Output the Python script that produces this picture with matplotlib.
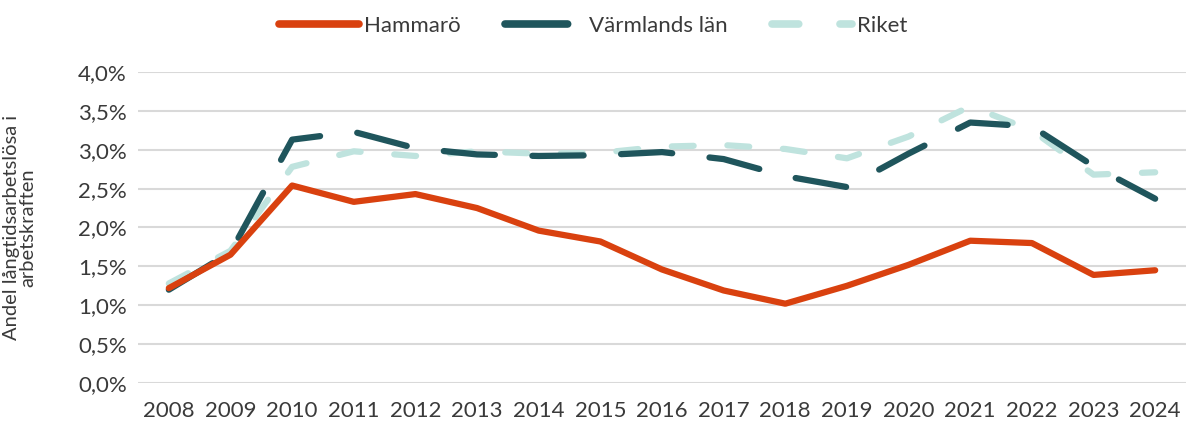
import matplotlib.pyplot as plt
from matplotlib.ticker import FuncFormatter

years = list(range(2008, 2025))
hammaro = [1.22, 1.65, 2.54, 2.33, 2.43, 2.25, 1.96, 1.82, 1.46, 1.19, 1.02, 1.25, 1.52, 1.83, 1.80, 1.39, 1.45]
varmland = [1.20, 1.68, 3.13, 3.23, 3.02, 2.94, 2.92, 2.93, 2.97, 2.88, 2.66, 2.52, 2.95, 3.35, 3.30, 2.79, 2.37]
riket = [1.28, 1.70, 2.78, 2.98, 2.92, 2.98, 2.95, 2.96, 3.04, 3.06, 3.01, 2.89, 3.17, 3.56, 3.25, 2.68, 2.71]

plt.rcParams['font.family'] = ['Lato', 'DejaVu Sans']
text_color = '#3a3a3a'

fig = plt.figure(figsize=(11.86, 4.23), dpi=100)
ax = fig.add_axes([138 / 1186, 1 - 383 / 423, 1048 / 1186, 311 / 423])

x = list(range(len(years)))
lw = 4.5
ax.plot(x, hammaro, color='#d9410f', lw=lw, solid_capstyle='round', label='Hammarö', zorder=3)
ax.plot(x, varmland, color='#1f555c', lw=lw, dashes=(8.2, 6.0), dash_capstyle='round',
        label='Värmlands län', zorder=2)
ax.plot(x, riket, color='#bfe3de', lw=lw, dashes=(3.5, 5.4), dash_capstyle='round',
        label='Riket', zorder=1)

ax.set_xlim(-0.5, len(years) - 0.5)
ax.set_ylim(0, 4.0)
ax.set_yticks([i * 0.5 for i in range(9)])
ax.yaxis.set_major_formatter(FuncFormatter(lambda v, p: f'{v:.1f}%'.replace('.', ',')))
ax.set_xticks(x)
ax.set_xticklabels([str(y) for y in years])
ax.grid(axis='y', color='#d9d9d9', lw=1.5, zorder=0)
ax.set_axisbelow(True)
for s in ax.spines.values():
    s.set_visible(False)
ax.tick_params(length=0, labelsize=16, labelcolor=text_color, pad=8)
ax.tick_params(axis='x', pad=13)

ax.set_ylabel('Andel långtidsarbetslösa i\narbetskraften', fontsize=14.5, color=text_color,
              labelpad=10, linespacing=0.95)
ax.yaxis.set_label_coords(-0.097, 0.5)

leg = fig.legend(loc='upper center', bbox_to_anchor=(0.5, 1.01), ncol=3, frameon=False,
                 fontsize=16, handlelength=3.6, handletextpad=0.2, columnspacing=2.0)
for t in leg.get_texts():
    t.set_color(text_color)
for h in leg.get_lines():
    h.set_linewidth(5.5)

fig.savefig('out.png', dpi=100)
